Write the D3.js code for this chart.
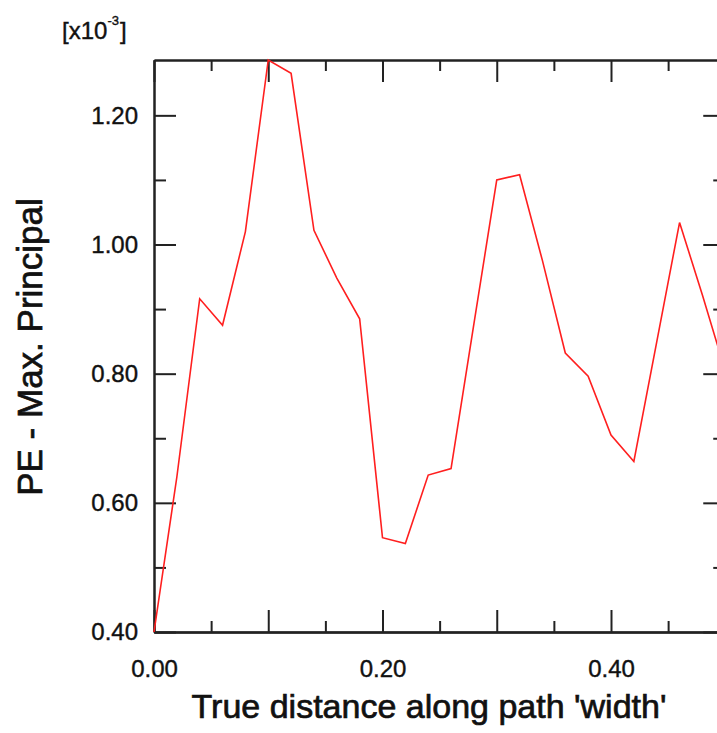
<!DOCTYPE html>
<html>
<head>
<meta charset="utf-8">
<script src="https://cdn.jsdelivr.net/npm/d3@7"></script>
<style>
  body { margin: 0; background: #fff; }
  svg { display: block; font-family: "Liberation Sans", Arial, sans-serif; }
  .axis path, .axis line { stroke: #222; stroke-width: 2; }
  .axis text { font-size: 24px; fill: #111; stroke: #111; stroke-width: 0.4; font-family: "Liberation Sans", Arial, sans-serif; }
</style>
</head>
<body>
<div id="chart"></div>
<script>
// distance along path (x) and max principal strain, x10^-3 (y)
var distance = [0.00, 0.02, 0.04, 0.06, 0.08, 0.10, 0.12, 0.14, 0.16, 0.18,
                0.20, 0.22, 0.24, 0.26, 0.28, 0.30, 0.32, 0.34, 0.36, 0.38,
                0.40, 0.42, 0.44, 0.46, 0.48, 0.50];
var strain = [0.400, 0.640, 0.916, 0.875, 1.020, 1.2857, 1.265, 1.022, 0.948, 0.885,
              0.546, 0.537, 0.643, 0.653, 0.877, 1.100, 1.108, 0.975, 0.832, 0.796,
              0.705, 0.664, 0.849, 1.034, 0.922, 0.804];

var xLabelTicks = [0.00, 0.20, 0.40];
var xMajorTicks = [0.10, 0.30, 0.50];
var xMinorTicks = [0.05, 0.15, 0.25, 0.35, 0.45];
var yLabelTicks = [0.40, 0.60, 0.80, 1.00, 1.20];
var yMinorTicks = [0.50, 0.70, 0.90, 1.10];

var width = 717, height = 733;
var margin = { top: 60, left: 154, bottom: 101 };
var plotRight = 725.25; // frame runs a little past the window

var svg = d3.select("#chart").append("svg")
    .attr("width", width)
    .attr("height", height);

var x = d3.scaleLinear().domain([0, 0.5]).range([margin.left, plotRight]);
var y = d3.scaleLinear()
    .domain([0.40, d3.max(strain)])
    .range([height - margin.bottom, margin.top]);

var fmt = d3.format(".2f");
var x0 = x.range()[0], x1 = x.range()[1];
var y0 = y.range()[0], y1 = y.range()[1];

// axes, ticks point inwards
function addAxis(axis, tx, ty) {
    svg.append("g")
        .attr("class", "axis")
        .attr("transform", "translate(" + tx + "," + ty + ")")
        .call(axis);
}

// left
addAxis(d3.axisLeft(y).tickValues(yLabelTicks).tickSize(-22).tickSizeOuter(0)
    .tickPadding(16).tickFormat(fmt), x0, 0);
addAxis(d3.axisLeft(y).tickValues(yMinorTicks).tickSize(-12).tickSizeOuter(0)
    .tickFormat(""), x0, 0);
// right
addAxis(d3.axisRight(y).tickValues(yLabelTicks).tickSize(-22).tickSizeOuter(0)
    .tickFormat(""), x1, 0);
addAxis(d3.axisRight(y).tickValues(yMinorTicks).tickSize(-12).tickSizeOuter(0)
    .tickFormat(""), x1, 0);
// bottom
addAxis(d3.axisBottom(x).tickValues(xLabelTicks).tickSize(-22).tickSizeOuter(0)
    .tickPadding(28).tickFormat(fmt), 0, y0);
addAxis(d3.axisBottom(x).tickValues(xMajorTicks).tickSize(-22).tickSizeOuter(0)
    .tickFormat(""), 0, y0);
addAxis(d3.axisBottom(x).tickValues(xMinorTicks).tickSize(-11).tickSizeOuter(0)
    .tickFormat(""), 0, y0);
// top
addAxis(d3.axisTop(x).tickValues(xLabelTicks.concat(xMajorTicks)).tickSize(-22).tickSizeOuter(0)
    .tickFormat(""), 0, y1);
addAxis(d3.axisTop(x).tickValues(xMinorTicks).tickSize(-11).tickSizeOuter(0)
    .tickFormat(""), 0, y1);

// the curve
var line = d3.line()
    .x(function (d, i) { return x(distance[i]); })
    .y(function (d) { return y(d); });

svg.append("path")
    .datum(strain)
    .attr("d", line)
    .attr("fill", "none")
    .attr("stroke", "#ff1f1f")
    .attr("stroke-width", 1.6)
    .attr("stroke-linejoin", "miter");

// titles
svg.append("text")
    .attr("x", 429)
    .attr("y", 718)
    .attr("text-anchor", "middle")
    .attr("font-size", 34)
    .attr("fill", "#111")
    .attr("stroke", "#111")
    .attr("stroke-width", 0.7)
    .text("True distance along path 'width'");

svg.append("text")
    .attr("transform", "translate(42,347) rotate(-90)")
    .attr("text-anchor", "middle")
    .attr("font-size", 35)
    .attr("fill", "#111")
    .attr("stroke", "#111")
    .attr("stroke-width", 0.7)
    .text("PE - Max. Principal");

// exponent label
var ex = svg.append("text")
    .attr("x", 62)
    .attr("y", 39)
    .attr("font-size", 24)
    .attr("fill", "#111")
    .attr("stroke", "#111")
    .attr("stroke-width", 0.4);
ex.append("tspan").text("[x10");
ex.append("tspan").attr("dy", -14).attr("font-size", 13).text("-3");
ex.append("tspan").attr("dy", 14).attr("dx", 1).text("]");
</script>
</body>
</html>
